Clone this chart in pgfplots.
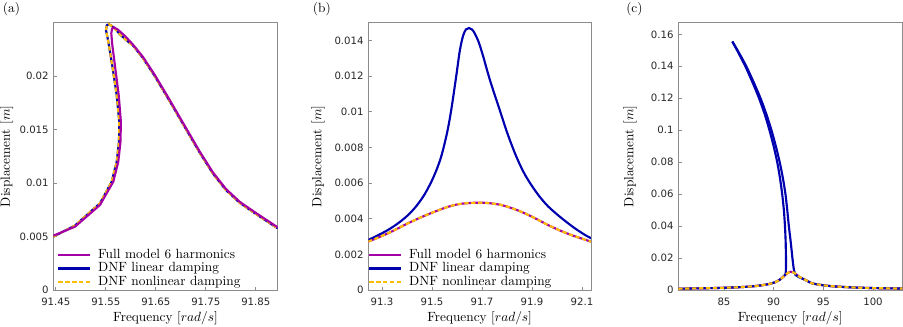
\documentclass[border=0pt]{standalone}
\usepackage{fontspec}
\usepackage{pgfplots}
\pgfplotsset{compat=1.18}
\newfontfamily\dejavu{DejaVu Sans}
\definecolor{cpurp}{RGB}{165,0,165}
\definecolor{cblue}{RGB}{0,0,175}
\definecolor{cyell}{RGB}{255,190,0}
\pgfplotsset{
  myax/.style={
    scale only axis, anchor=south west,
    height=200.5pt,
    axis line style={black!45, line width=0.6pt},
    major tick style={black!45, line width=0.5pt},
    tick align=inside, major tick length=2.5pt,
    xtick pos=lower, ytick pos=left,
    scaled ticks=false,
    tick label style={font=\dejavu\fontsize{7.6}{9}\selectfont, text=black!85},
    xticklabel style={yshift=-2.5pt},
    label style={font=\fontsize{10}{12}\selectfont},
    xlabel={Frequency $[rad/s]$},
    ylabel={Displacement $[m]$},
    ymin=0,
    legend cell align=left,
    legend image code/.code={\draw[##1] (0pt,0pt) -- (24pt,0pt);},
    legend style={draw=none, fill=none, inner sep=0pt, outer sep=0pt,
      font=\fontsize{10}{12}\selectfont, row sep=1.3pt, column sep=5pt,
      nodes={inner sep=0pt, text height=6.9pt, text depth=1.9pt}},
  },
  purp/.style={color=cpurp, line width=1.6pt},
  blu/.style={color=cblue, line width=1.6pt},
  yel/.style={color=cyell, line width=1.6pt, dash pattern=on 3.2pt off 2pt},
}
\begin{document}
\begin{tikzpicture}
% ---------------- (a)
\begin{axis}[myax, at={(39.98pt,27.75pt)}, width=168.3pt,
  xmin=91.445, xmax=91.8939, ymax=0.025,
  xtick={91.45,91.55,91.65,91.75,91.85},
  xticklabels={91.45,91.55,91.65,91.75,91.85},
  ytick={0,0.005,0.01,0.015,0.02},
  yticklabels={0,0.005,0.01,0.015,0.02},
  xlabel style={at={(axis description cs:0.5,-0.106)}, anchor=center, inner sep=0pt},
  ylabel style={at={(axis description cs:-0.208,0.5)}, anchor=center, inner sep=0pt},
  legend style={at={(axis description cs:0.018,0.008)}, anchor=south west},
]
\addlegendimage{purp}
\addlegendentry{Full model 6 harmonics}
\addlegendimage{blu}
\addlegendentry{DNF linear damping}
\addlegendimage{yel}
\addlegendentry{DNF nonlinear damping}
\addplot[blu, forget plot] coordinates {
(91.4450,0.004985) (91.4884,0.006033) (91.5384,0.008109) (91.5618,0.010129)
(91.5718,0.012000) (91.5764,0.013870) (91.5770,0.015741) (91.5718,0.018238)
(91.5638,0.020735) (91.5550,0.023223) (91.5504,0.024300) (91.5520,0.024760)
(91.5560,0.024860) (91.5618,0.024700) (91.5700,0.024350) (91.5784,0.023900)
(91.5900,0.023400) (91.6050,0.022830)
(91.6244,0.021680) (91.6484,0.019970) (91.6784,0.017610) (91.7104,0.015040)
(91.7384,0.012800) (91.7644,0.010880) (91.7904,0.009340) (91.8184,0.008130)
(91.8518,0.007060) (91.8938,0.005770)
};
\addplot[yel, forget plot] coordinates {
(91.4450,0.004985) (91.4884,0.006033) (91.5384,0.008109) (91.5618,0.010129)
(91.5718,0.012000) (91.5764,0.013870) (91.5770,0.015741) (91.5718,0.018238)
(91.5638,0.020735) (91.5550,0.023223) (91.5504,0.024300) (91.5520,0.024760)
(91.5560,0.024860) (91.5618,0.024700) (91.5700,0.024350) (91.5784,0.023900)
(91.5900,0.023400) (91.6050,0.022830)
(91.6244,0.021680) (91.6484,0.019970) (91.6784,0.017610) (91.7104,0.015040)
(91.7384,0.012800) (91.7644,0.010880) (91.7904,0.009340) (91.8184,0.008130)
(91.8518,0.007060) (91.8938,0.005770)
};
\addplot[purp, forget plot] coordinates {
(91.4450,0.005079) (91.4884,0.005920) (91.5384,0.007950) (91.5650,0.010129)
(91.5750,0.012000) (91.5794,0.013870) (91.5802,0.015741) (91.5758,0.018238)
(91.5690,0.020735) (91.5630,0.022914) (91.5610,0.024000) (91.5625,0.024430)
(91.5665,0.024560) (91.5750,0.024317) (91.5884,0.023756) (91.6050,0.022914)
(91.6244,0.021792) (91.6484,0.020081) (91.6784,0.017724) (91.7104,0.015152)
(91.7384,0.012907) (91.7644,0.010990) (91.7904,0.009446) (91.8184,0.008230)
(91.8518,0.007155) (91.8938,0.005864)
};
\end{axis}
% ---------------- (b)
\begin{axis}[myax, at={(276.2pt,27.75pt)}, width=167pt,
  xmin=91.245, xmax=92.136, ymax=0.015,
  xtick={91.3,91.5,91.7,91.9,92.1},
  xticklabels={91.3,91.5,91.7,91.9,92.1},
  ytick={0,0.002,0.004,0.006,0.008,0.01,0.012,0.014},
  yticklabels={0,0.002,0.004,0.006,0.008,0.01,0.012,0.014},
  xlabel style={at={(axis description cs:0.5,-0.106)}, anchor=center, inner sep=0pt},
  ylabel style={at={(axis description cs:-0.2257,0.5)}, anchor=center, inner sep=0pt},
  legend style={at={(axis description cs:0.0,0.008)}, anchor=south west},
]
\addplot[purp, smooth] coordinates {
(91.244,0.002710) (91.284,0.002940) (91.324,0.003182) (91.364,0.003460)
(91.404,0.003743) (91.458,0.004090) (91.511,0.004394) (91.558,0.004640)
(91.604,0.004809) (91.650,0.004880) (91.697,0.004899) (91.737,0.004860)
(91.777,0.004770) (91.824,0.004570) (91.871,0.004304) (91.917,0.003990)
(91.964,0.003648) (92.010,0.003350) (92.057,0.003086) (92.100,0.002880)
(92.137,0.002710)
};
\addlegendentry{Full model 6 harmonics}
\addplot[blu, smooth] coordinates {
(91.244,0.00280) (91.284,0.00307) (91.324,0.00337) (91.364,0.00374)
(91.404,0.00420) (91.438,0.00472) (91.471,0.00538) (91.505,0.00630)
(91.535,0.00740) (91.560,0.00880) (91.577,0.01010) (91.597,0.01200)
(91.611,0.01340) (91.624,0.01425) (91.636,0.01462) (91.648,0.01470)
(91.660,0.01462) (91.671,0.01440) (91.687,0.01390) (91.704,0.01315)
(91.720,0.01235) (91.737,0.01155) (91.771,0.01010) (91.804,0.00870)
(91.837,0.00750) (91.867,0.00660) (91.897,0.00590) (91.930,0.00525)
(91.964,0.00470) (92.004,0.00420) (92.044,0.00375) (92.078,0.00340)
(92.111,0.00310) (92.137,0.00290)
};
\addlegendentry{DNF linear damping}
\addplot[yel, smooth] coordinates {
(91.244,0.002710) (91.284,0.002940) (91.324,0.003182) (91.364,0.003460)
(91.404,0.003743) (91.458,0.004090) (91.511,0.004394) (91.558,0.004640)
(91.604,0.004809) (91.650,0.004880) (91.697,0.004899) (91.737,0.004860)
(91.777,0.004770) (91.824,0.004570) (91.871,0.004304) (91.917,0.003990)
(91.964,0.003648) (92.010,0.003350) (92.057,0.003086) (92.100,0.002880)
(92.137,0.002710)
};
\addlegendentry{DNF nonlinear damping}
\end{axis}
% ---------------- (c)
\begin{axis}[myax, at={(508.7pt,27.75pt)}, width=167.8pt,
  xmin=80.4, xmax=102.92, ymax=0.1673,
  xtick={85,90,95,100},
  xticklabels={85,90,95,100},
  ytick={0,0.02,0.04,0.06,0.08,0.1,0.12,0.14,0.16},
  yticklabels={0,0.02,0.04,0.06,0.08,0.1,0.12,0.14,0.16},
  xlabel style={at={(axis description cs:0.5,-0.106)}, anchor=center, inner sep=0pt},
  ylabel style={at={(axis description cs:-0.2157,0.5)}, anchor=center, inner sep=0pt},
]
\addplot[purp, smooth] coordinates {
(80.4,0.0008) (82,0.0010) (84,0.0012) (86,0.0016) (87.5,0.0021) (88.5,0.0027)
(89.5,0.0037) (90.2,0.0050) (90.7,0.0068) (91.1,0.0090) (91.4,0.0106)
(91.7,0.0114) (92.0,0.0110) (92.3,0.0097) (92.7,0.0078) (93.3,0.0060)
(93.8,0.0043) (94.7,0.0032) (96,0.0023) (98,0.0016) (100,0.0012) (102.92,0.0009)
};
\addplot[blu, smooth, tension=0.4] coordinates {
(80.4,0.0008) (82,0.0010) (84,0.0012) (86,0.0016) (87.5,0.0021) (88.5,0.0027)
(89.5,0.0037) (90.2,0.0050) (90.7,0.0068) (91.05,0.0088) (91.20,0.0100)
(91.24,0.0140) (91.24,0.0200) (91.21,0.0300) (91.14,0.0400) (91.03,0.0500)
(90.86,0.0600) (90.64,0.0700) (90.36,0.0800) (90.00,0.0900) (89.58,0.1000)
(89.10,0.1100) (88.53,0.1200) (87.87,0.1300) (87.15,0.1400) (86.32,0.1500)
(85.84,0.1555)
};
\addplot[blu, smooth, tension=0.4] coordinates {
(85.84,0.1555) (86.37,0.1500) (87.25,0.1400) (87.99,0.1300) (88.68,0.1200)
(89.27,0.1100) (89.78,0.1000) (90.22,0.0900) (90.61,0.0800) (90.93,0.0700)
(91.19,0.0600) (91.37,0.0500) (91.53,0.0400) (91.72,0.0300) (91.89,0.0200)
(92.03,0.0130) (92.20,0.0094) (92.45,0.0084) (92.7,0.0076) (93.3,0.0060)
(93.8,0.0043) (94.7,0.0032) (96,0.0023) (98,0.0016) (100,0.0012) (102.92,0.0009)
};
\addplot[yel, smooth] coordinates {
(80.4,0.0008) (82,0.0010) (84,0.0012) (86,0.0016) (87.5,0.0021) (88.5,0.0027)
(89.5,0.0037) (90.2,0.0050) (90.7,0.0068) (91.1,0.0090) (91.4,0.0106)
(91.7,0.0114) (92.0,0.0110) (92.3,0.0097) (92.7,0.0078) (93.3,0.0060)
(93.8,0.0043) (94.7,0.0032) (96,0.0023) (98,0.0016) (100,0.0012) (102.92,0.0009)
};
\end{axis}
\node[anchor=west, inner sep=0pt, font=\fontsize{10}{12}\selectfont] at (2pt,238.35pt) {(a)};
\node[anchor=west, inner sep=0pt, font=\fontsize{10}{12}\selectfont] at (234.5pt,238.35pt) {(b)};
\node[anchor=west, inner sep=0pt, font=\fontsize{10}{12}\selectfont] at (469.5pt,238.35pt) {(c)};
\pgfresetboundingbox
\useasboundingbox (0pt,0pt) rectangle (677.25pt,245.25pt);
\end{tikzpicture}
\end{document}
